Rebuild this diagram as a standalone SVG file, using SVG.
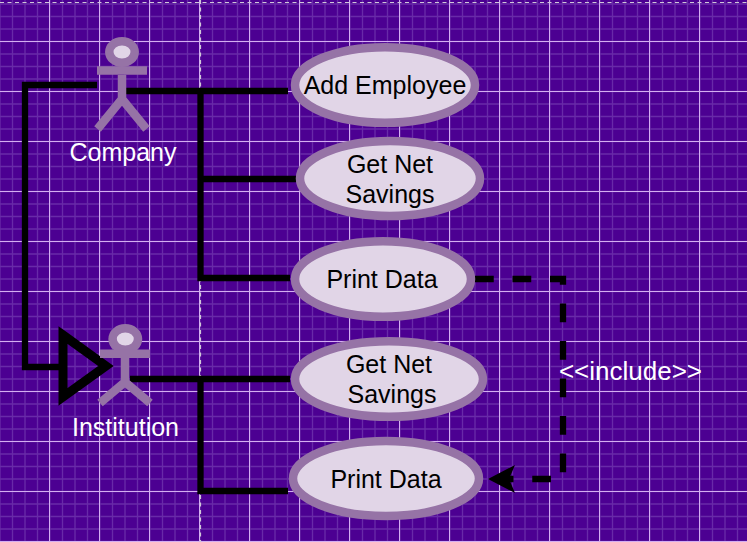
<svg xmlns="http://www.w3.org/2000/svg" width="747" height="542" viewBox="0 0 747 542">
<defs>
<pattern id="minor" width="25" height="25" patternUnits="userSpaceOnUse" x="0" y="4"><path d="M12.500 0V25M25 0V25M0 0V25M0 0H25M0 25H25M0 12.500H25" fill="none" stroke="#682aa8" stroke-width="1.300"/></pattern>
<pattern id="major" width="50" height="50" patternUnits="userSpaceOnUse" x="-1" y="41"><path d="M0.500 0V50M0 0.500H50" fill="none" stroke="#d4aef2" stroke-width="1"/></pattern>
</defs>
<style>
.l{fill:none;stroke:#000;stroke-width:6.300}
.u{fill:#e1d5e7;stroke:#9673a6;stroke-width:8.5}
.a{fill:none;stroke:#9673a6;stroke-width:8.5}
text{font-family:"Liberation Sans",Arial,sans-serif;font-size:25px;text-anchor:middle}
.k{fill:#000}.w{fill:#fff}
</style>
<rect width="747" height="542" fill="#4c0092"/>
<rect width="747" height="542" fill="url(#minor)"/>
<rect width="747" height="542" fill="url(#major)"/>
<path d="M0 2.500H747M200.500 0V542" fill="none" stroke="#cfc6d8" stroke-width="1.200" stroke-dasharray="4 3.500"/>
<g id="connectors">
<path class="l" d="M97 85H25V367H62"/>
<path d="M63 335L106 366L63 397Z" fill="none" stroke="#000" stroke-width="9"/>
<path class="l" d="M125 91H288"/>
<path class="l" d="M200.500 91V278H290"/>
<path class="l" d="M200.500 179H300"/>
<path class="l" d="M130 379H290"/>
<path class="l" d="M200.500 379V491H288"/>
<path class="l" d="M475 279H563V479H505" stroke-dasharray="18.750 18.750"/>
<path d="M488 479L515 465L509 479L515 493Z" fill="#000"/>
</g>
<g id="company">
<ellipse class="u" cx="122" cy="52" rx="12.700" ry="10.800"/>
<path class="a" d="M97 70.500H147M122 75V99M122 99L97.500 129M122 99L146.500 129"/>
<text class="w" x="123" y="161">Company</text>
</g>
<g id="institution">
<ellipse class="u" cx="125.300" cy="339" rx="12.700" ry="10.800"/>
<path class="a" d="M100 353.700H150M125 358V382M125 382L100 403M125 382L150 403"/>
<text class="w" x="125.500" y="436">Institution</text>
</g>
<g id="add-employee">
<ellipse class="u" cx="385" cy="85" rx="90" ry="37.800"/>
<text class="k" x="385" y="94">Add Employee</text>
</g>
<g id="get-net-savings-1">
<ellipse class="u" cx="390" cy="178.500" rx="90" ry="37.500"/>
<text class="k" x="390" y="173">Get Net</text>
<text class="k" x="390" y="203">Savings</text>
</g>
<g id="print-data-1">
<ellipse class="u" cx="383" cy="279" rx="88" ry="37.800"/>
<text class="k" x="382" y="288">Print Data</text>
</g>
<g id="get-net-savings-2">
<ellipse class="u" cx="389" cy="379" rx="94" ry="37.800"/>
<text class="k" x="389" y="373">Get Net</text>
<text class="k" x="392" y="403">Savings</text>
</g>
<g id="print-data-2">
<ellipse class="u" cx="386" cy="478.500" rx="93" ry="37.500"/>
<text class="k" x="386" y="488">Print Data</text>
</g>
<text class="w" x="630.500" y="380" style="font-size:26px">&lt;&lt;include&gt;&gt;</text>
</svg>
